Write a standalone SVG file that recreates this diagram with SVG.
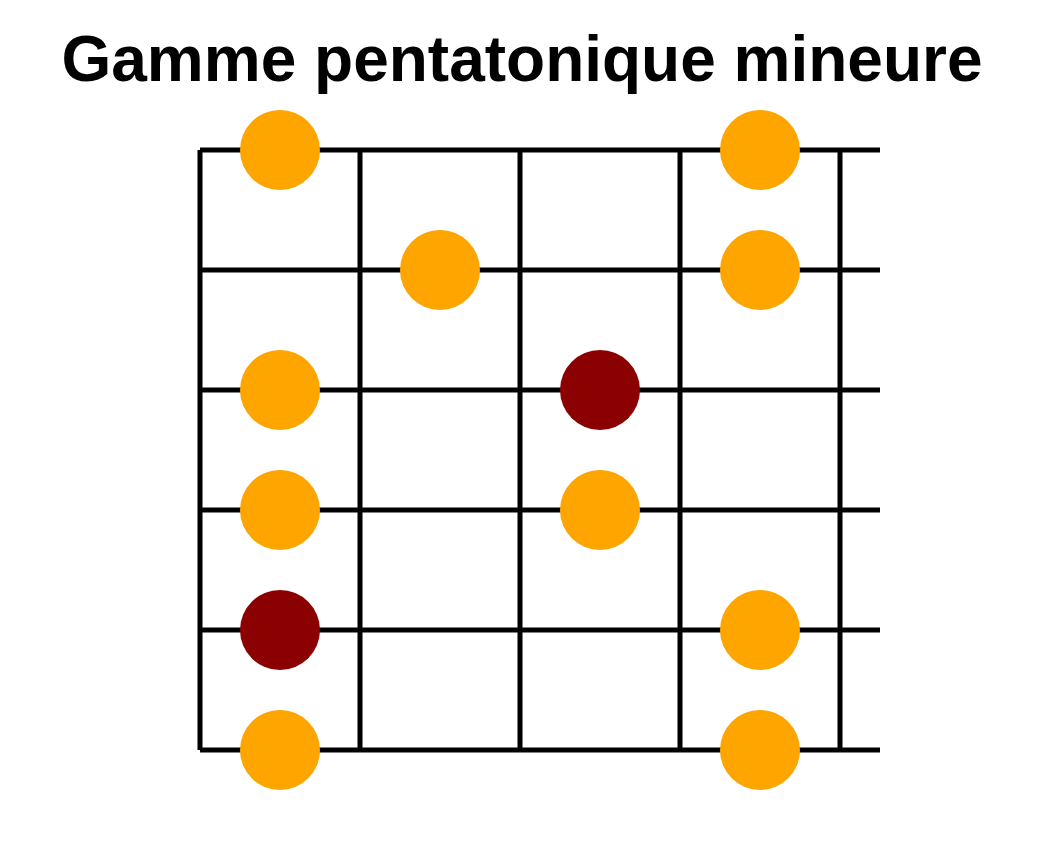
<svg xmlns="http://www.w3.org/2000/svg" width="1040" height="850" viewBox="0 0 1040 850">
  <style>
    .title { font-family: "Liberation Sans", Arial, sans-serif; font-weight: bold; font-size: 64px; fill: #000; }
    .line { stroke: #000; stroke-width: 5; fill: none; }
    .note { fill: #FFA500; }
    .root { fill: #8B0000; }
  </style>
  <rect width="1040" height="850" fill="#fff"/>
  <text class="title" x="522" y="81" text-anchor="middle">Gamme pentatonique mineure</text>
  <g id="grid">
    <line class="line" x1="200" y1="150" x2="880" y2="150"/>
    <line class="line" x1="200" y1="270" x2="880" y2="270"/>
    <line class="line" x1="200" y1="390" x2="880" y2="390"/>
    <line class="line" x1="200" y1="510" x2="880" y2="510"/>
    <line class="line" x1="200" y1="630" x2="880" y2="630"/>
    <line class="line" x1="200" y1="750" x2="880" y2="750"/>
    <line class="line" x1="200" y1="150" x2="200" y2="750"/>
    <line class="line" x1="360" y1="150" x2="360" y2="750"/>
    <line class="line" x1="520" y1="150" x2="520" y2="750"/>
    <line class="line" x1="680" y1="150" x2="680" y2="750"/>
    <line class="line" x1="840" y1="150" x2="840" y2="750"/>
  </g>
  <g id="notes">
    <circle id="n1" class="note" cx="280" cy="150" r="40"/>
    <circle id="n2" class="note" cx="760" cy="150" r="40"/>
    <circle id="n3" class="note" cx="440" cy="270" r="40"/>
    <circle id="n4" class="note" cx="760" cy="270" r="40"/>
    <circle id="n5" class="note" cx="280" cy="390" r="40"/>
    <circle id="n6" class="root" cx="600" cy="390" r="40"/>
    <circle id="n7" class="note" cx="280" cy="510" r="40"/>
    <circle id="n8" class="note" cx="600" cy="510" r="40"/>
    <circle id="n9" class="root" cx="280" cy="630" r="40"/>
    <circle id="n10" class="note" cx="760" cy="630" r="40"/>
    <circle id="n11" class="note" cx="280" cy="750" r="40"/>
    <circle id="n12" class="note" cx="760" cy="750" r="40"/>
  </g>
</svg>
